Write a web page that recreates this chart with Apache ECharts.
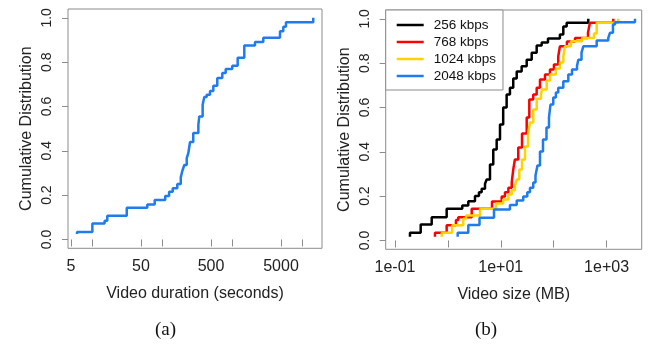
<!DOCTYPE html>
<html>
<head>
<meta charset="utf-8">
<script src="https://cdn.jsdelivr.net/npm/echarts@6/dist/echarts.min.js"></script>
<style>
  html, body { margin: 0; padding: 0; background: #fff; }
  #chart { width: 649px; height: 345px; }
</style>
</head>
<body>
<div id="chart"></div>
<script>
// (a) video duration CDF
const durationSec = [6.1, 6.1, 10.1, 15.1, 16.5, 31.3, 61.5, 78.5, 111, 126, 142, 165, 185, 195, 208, 225, 237, 251, 279, 330, 340, 380, 401, 434, 484, 540, 615, 725, 811, 1007, 1202, 1496, 2126, 2793, 4840, 5392, 5890, 14460];
const durationCdf = [0.024, 0.034, 0.072, 0.084, 0.107, 0.143, 0.158, 0.178, 0.196, 0.215, 0.231, 0.25, 0.28, 0.31, 0.336, 0.367, 0.389, 0.44, 0.48, 0.517, 0.555, 0.608, 0.643, 0.653, 0.67, 0.694, 0.729, 0.751, 0.769, 0.784, 0.82, 0.875, 0.891, 0.91, 0.94, 0.96, 0.98, 1.0];

// (b) video size CDF per bitrate
const bitrates = ['256 kbps', '768 kbps', '1024 kbps', '2048 kbps'];
const size256 = [0.192, 0.192, 0.306, 0.494, 0.948, 1.87, 2.43, 3.25, 3.87, 4.35, 5.03, 5.41, 6.25, 7.21, 8.36, 9.66, 11.1, 12.9, 14.9, 17.2, 20, 24.8, 30.9, 38.4, 47.7, 59.3, 78, 131, 152, 176, 451];
const cdf256 = [0.017, 0.035, 0.072, 0.105, 0.143, 0.158, 0.177, 0.2, 0.218, 0.233, 0.256, 0.275, 0.343, 0.41, 0.456, 0.523, 0.6, 0.659, 0.689, 0.731, 0.762, 0.786, 0.816, 0.847, 0.88, 0.893, 0.911, 0.929, 0.965, 0.983, 1.0];
const size768 = [0.57, 0.57, 0.948, 1.42, 1.57, 2.82, 6.82, 10.4, 12, 13.9, 16.1, 17.2, 18.5, 21.4, 25.2, 30.9, 34.6, 41.1, 47.7, 55.1, 68.5, 85.1, 101, 122, 131, 178, 253, 445, 485, 1340];
const cdf768 = [0.017, 0.035, 0.068, 0.092, 0.105, 0.143, 0.176, 0.198, 0.217, 0.238, 0.262, 0.32, 0.365, 0.419, 0.483, 0.555, 0.636, 0.659, 0.689, 0.726, 0.749, 0.771, 0.794, 0.831, 0.876, 0.898, 0.914, 0.937, 0.983, 1.0];
const size1024 = [0.764, 0.764, 1.2, 1.95, 2.2, 4.04, 8.11, 11.1, 13.9, 16.1, 18.5, 20, 22.4, 25.2, 28.7, 32.7, 35.6, 41.1, 47.7, 57.5, 60.1, 73.8, 85.1, 110, 131, 152, 164, 212, 343, 578, 650, 1664];
const cdf1024 = [0.017, 0.035, 0.068, 0.098, 0.113, 0.143, 0.167, 0.185, 0.207, 0.227, 0.245, 0.275, 0.32, 0.365, 0.424, 0.478, 0.532, 0.591, 0.64, 0.659, 0.681, 0.722, 0.749, 0.776, 0.803, 0.831, 0.876, 0.899, 0.914, 0.934, 0.983, 1.0];
const size2048 = [1.53, 1.53, 2.43, 3.96, 7.44, 14.9, 20, 26.6, 31.7, 35.6, 41.1, 45.3, 49.4, 55.1, 62.8, 73.1, 81.5, 87, 98.2, 110, 122, 152, 189, 222, 276, 292, 336, 363, 650, 1077, 1159, 1321, 1442, 3443];
const cdf2048 = [0.017, 0.035, 0.07, 0.102, 0.14, 0.16, 0.18, 0.198, 0.218, 0.238, 0.262, 0.293, 0.338, 0.401, 0.456, 0.51, 0.555, 0.613, 0.645, 0.668, 0.689, 0.719, 0.749, 0.771, 0.787, 0.816, 0.848, 0.876, 0.902, 0.914, 0.937, 0.974, 0.985, 1.0];

// tick values
const yTicks = [0, 0.2, 0.4, 0.6, 0.8, 1.0];
const durTicks = [5, 10, 50, 100, 500, 1000, 5000, 10000];
const durLabels = [5, 50, 500, 5000];
const sizeTicks = [0.1, 1, 10, 100, 1000];
const sizeLabels = [0.1, 10, 1000];

const colors = ['#000000', '#ff0000', '#ffd200', '#1e7bf0'];
const boxColor = '#8c8c8c';
const font = 'Liberation Sans, Arial, sans-serif';

const pairs = (xs, ys) => xs.map((x, i) => [x, ys[i]]);

// y 轴（两个子图共用）
const yAxisBase = (gridIndex) => ({
  gridIndex: gridIndex,
  type: 'value',
  min: -0.04,
  max: 1.04,
  name: 'Cumulative Distribution',
  nameLocation: 'middle',
  nameGap: 33,
  nameTextStyle: { fontFamily: font, fontSize: 16, color: '#222' },
  axisLine: { show: false },
  splitLine: { show: false },
  axisTick: { show: true, length: 6, customValues: yTicks, lineStyle: { color: boxColor } },
  axisLabel: {
    customValues: yTicks,
    rotate: 90,
    margin: 14,
    fontFamily: font,
    fontSize: 14,
    color: '#222',
    formatter: v => v.toFixed(1)
  }
});

const sciLabel = v => {
  const e = Math.round(Math.log10(v));
  return '1e' + (e < 0 ? '-' : '+') + String(Math.abs(e)).padStart(2, '0');
};

const chart = echarts.init(document.getElementById('chart'));

const option = {
  animation: false,
  backgroundColor: '#fff',
  grid: [
    { left: 68, right: 327, top: 9, bottom: 96.7, show: true, borderColor: boxColor, borderWidth: 1 },
    { left: 385.7, right: 7.3, top: 10, bottom: 95.7, show: true, borderColor: boxColor, borderWidth: 1 }
  ],
  xAxis: [
    {
      gridIndex: 0,
      type: 'log',
      min: 4.53,
      max: 19270,
      name: 'Video duration (seconds)',
      nameLocation: 'middle',
      nameGap: 37,
      nameTextStyle: { fontFamily: font, fontSize: 16, color: '#222' },
      axisLine: { show: false },
      splitLine: { show: false },
      axisTick: { show: true, length: 7, customValues: durTicks, lineStyle: { color: boxColor } },
      axisLabel: {
        customValues: durLabels,
        margin: 10,
        fontFamily: font,
        fontSize: 16,
        color: '#222',
        formatter: v => String(Math.round(v))
      }
    },
    {
      gridIndex: 1,
      type: 'log',
      min: 0.0667,
      max: 4613,
      name: 'Video size (MB)',
      nameLocation: 'middle',
      nameGap: 37,
      nameTextStyle: { fontFamily: font, fontSize: 16, color: '#222' },
      axisLine: { show: false },
      splitLine: { show: false },
      axisTick: { show: true, length: 7, customValues: sizeTicks, lineStyle: { color: boxColor } },
      axisLabel: {
        customValues: sizeLabels,
        margin: 10,
        fontFamily: font,
        fontSize: 16,
        color: '#222',
        formatter: sciLabel
      }
    }
  ],
  yAxis: [yAxisBase(0), yAxisBase(1)],
  legend: {
    orient: 'vertical',
    left: 385.7,
    top: 10,
    data: bitrates,
    icon: 'rect',
    itemWidth: 27,
    itemHeight: 2.5,
    itemGap: 3,
    padding: [8, 7, 7, 11],
    borderColor: boxColor,
    borderWidth: 1,
    backgroundColor: '#fff',
    textStyle: { fontFamily: font, fontSize: 13.5, lineHeight: 14, color: '#111', padding: [0, 0, 0, 5] }
  },
  graphic: [
    { type: 'text', left: 155, top: 321, style: { text: '(a)', font: '19px "Liberation Serif", serif', fill: '#111' } },
    { type: 'text', left: 475, top: 321, style: { text: '(b)', font: '19px "Liberation Serif", serif', fill: '#111' } }
  ],
  series: [
    {
      name: 'duration',
      type: 'line',
      xAxisIndex: 0,
      yAxisIndex: 0,
      step: 'end',
      symbol: 'none',
      lineStyle: { color: colors[3], width: 2.5 },
      data: pairs(durationSec, durationCdf)
    },
    ...[[size256, cdf256], [size768, cdf768], [size1024, cdf1024], [size2048, cdf2048]].map((d, i) => ({
      name: bitrates[i],
      type: 'line',
      xAxisIndex: 1,
      yAxisIndex: 1,
      step: 'end',
      symbol: 'none',
      itemStyle: { color: colors[i] },
      lineStyle: { color: colors[i], width: 2.5 },
      data: pairs(d[0], d[1])
    }))
  ]
};

chart.setOption(option);

window.addEventListener('resize', () => {
  chart.resize();
});
</script>
</body>
</html>
